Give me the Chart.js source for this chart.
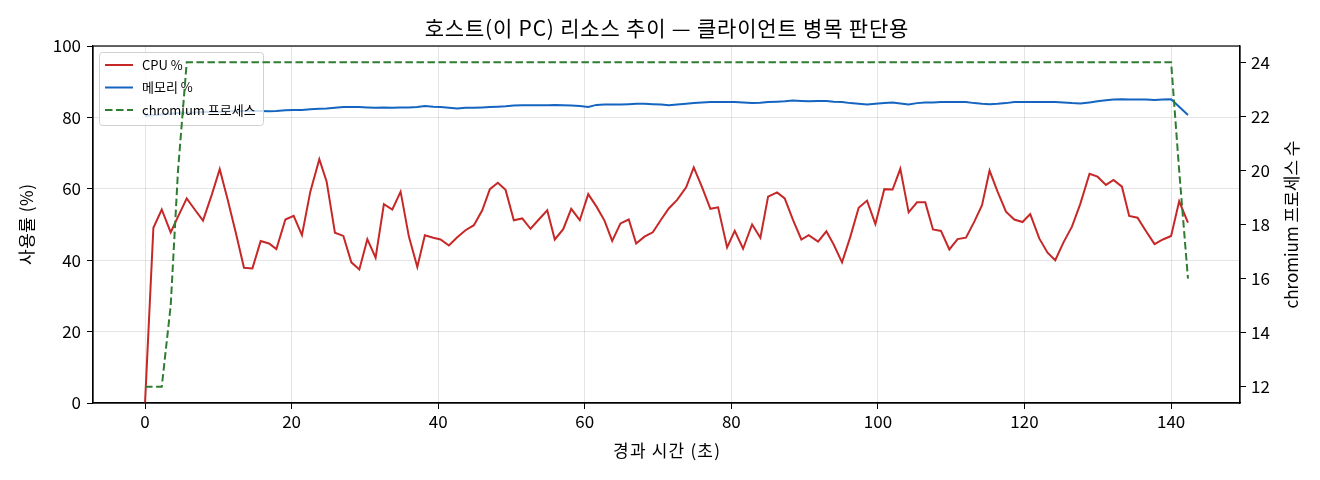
<!DOCTYPE html>
<html>
<head>
<meta charset="utf-8">
<script src="https://cdn.jsdelivr.net/npm/chart.js@4.4.1/dist/chart.umd.min.js"></script>
<style>
  html, body { margin: 0; background: #fff; }
  #wrap { width: 1320px; height: 480px; }
</style>
</head>
<body>
<div id="wrap"><canvas id="chart"></canvas></div>
<script>
// elapsed seconds of each sample
const times = [
  0, 1.14, 2.28, 3.50, 4.50, 5.69, 6.78, 7.91, 9.10, 10.19,
  11.28, 12.41, 13.50, 14.65, 15.78, 16.91, 17.92, 19.15, 20.28, 21.41,
  22.55, 23.78, 24.78, 25.91, 27.06, 28.15, 29.24, 30.33, 31.46, 32.59,
  33.74, 34.87, 36.00, 37.15, 38.18, 39.33, 40.32, 41.46, 42.60, 43.73,
  44.87, 46.01, 47.05, 48.14, 49.19, 50.32, 51.47, 52.60, 53.73, 54.88,
  55.91, 57.06, 58.15, 59.32, 60.47, 61.60, 62.69, 63.74, 64.87, 66.00,
  67.01, 68.14, 69.28, 70.42, 71.46, 72.60, 73.83, 74.87, 76.01, 77.14,
  78.19, 79.42, 80.46, 81.60, 82.83, 83.96, 85.01, 86.24, 87.28, 88.42,
  89.55, 90.55, 91.83, 92.96, 93.96, 95.10, 96.24, 97.37, 98.51, 99.65,
  100.87, 102.00, 103.05, 104.19, 105.33, 106.46, 107.51, 108.60, 109.74, 110.87,
  112.01, 113.15, 114.20, 115.23, 116.32, 117.47, 118.60, 119.73, 120.78, 122.01,
  123.14, 124.19, 125.32, 126.47, 127.60, 128.87, 129.96, 131.11, 132.14, 133.29,
  134.28, 135.42, 136.56, 137.74, 138.88, 140.0, 141.1, 142.3
]

const cpu = [
  0, 49.1, 54.2, 47.8, 52.2, 57.3, 54.2, 51.1, 58.3, 65.5,
  56.9, 47.5, 37.9, 37.7, 45.4, 44.7, 43.1, 51.4, 52.4, 47.0,
  59.2, 68.3, 62.0, 47.7, 46.8, 39.4, 37.4, 45.9, 40.7, 55.7,
  54.2, 59.2, 46.6, 38.1, 47.0, 46.3, 45.8, 44.1, 46.4, 48.4,
  49.8, 54.0, 59.9, 61.7, 59.7, 51.2, 51.7, 48.8, 51.4, 54.0,
  45.8, 48.7, 54.4, 51.2, 58.5, 55.0, 51.1, 45.4, 50.3, 51.4,
  44.7, 46.6, 47.8, 51.4, 54.5, 56.9, 60.4, 66.0, 60.4, 54.4,
  54.8, 43.6, 48.2, 43.2, 50.0, 46.3, 57.8, 59.0, 57.3, 51.2,
  45.8, 47.0, 45.2, 48.1, 44.4, 39.4, 46.6, 54.7, 56.7, 50.1,
  59.9, 59.8, 65.6, 53.4, 56.2, 56.2, 48.6, 48.2, 43.0, 45.9,
  46.3, 50.8, 55.4, 65.1, 59.2, 53.6, 51.4, 50.7, 52.9, 46.1,
  42.1, 40.0, 45.0, 49.4, 55.7, 64.2, 63.4, 61.1, 62.5, 60.6,
  52.4, 51.9, 48.2, 44.5, 45.8, 46.8, 56.5, 50.5
]

const mem = [
  80.4, 80.6, 80.8, 81.0, 81.2, 81.3, 81.4, 81.5, 81.6, 81.6,
  81.7, 81.7, 81.8, 81.8, 81.8, 81.7, 81.8, 82.0, 82.1, 82.1,
  82.3, 82.4, 82.5, 82.7, 82.9, 82.9, 82.9, 82.8, 82.7, 82.8,
  82.7, 82.8, 82.8, 82.9, 83.2, 83.0, 82.9, 82.7, 82.5, 82.7,
  82.7, 82.8, 82.9, 83.0, 83.1, 83.3, 83.4, 83.4, 83.4, 83.4,
  83.5, 83.4, 83.3, 83.2, 82.9, 83.5, 83.6, 83.6, 83.6, 83.7,
  83.8, 83.8, 83.7, 83.6, 83.4, 83.6, 83.8, 84.0, 84.2, 84.3,
  84.3, 84.3, 84.3, 84.2, 84.0, 84.1, 84.3, 84.4, 84.5, 84.7,
  84.6, 84.5, 84.6, 84.6, 84.4, 84.3, 84.0, 83.8, 83.6, 83.8,
  84.0, 84.2, 83.9, 83.6, 84.0, 84.2, 84.2, 84.3, 84.3, 84.3,
  84.3, 84.0, 83.8, 83.7, 83.8, 84.0, 84.3, 84.3, 84.3, 84.3,
  84.3, 84.3, 84.2, 84.0, 83.9, 84.2, 84.5, 84.8, 85.0, 85.1,
  85.0, 85.0, 85.0, 84.9, 85.0, 85.1, 83.0, 80.7
]

const procs = [
  12, 12, 12, 15, 20, 24, 24, 24, 24, 24,
  24, 24, 24, 24, 24, 24, 24, 24, 24, 24,
  24, 24, 24, 24, 24, 24, 24, 24, 24, 24,
  24, 24, 24, 24, 24, 24, 24, 24, 24, 24,
  24, 24, 24, 24, 24, 24, 24, 24, 24, 24,
  24, 24, 24, 24, 24, 24, 24, 24, 24, 24,
  24, 24, 24, 24, 24, 24, 24, 24, 24, 24,
  24, 24, 24, 24, 24, 24, 24, 24, 24, 24,
  24, 24, 24, 24, 24, 24, 24, 24, 24, 24,
  24, 24, 24, 24, 24, 24, 24, 24, 24, 24,
  24, 24, 24, 24, 24, 24, 24, 24, 24, 24,
  24, 24, 24, 24, 24, 24, 24, 24, 24, 24,
  24, 24, 24, 24, 24, 24, 20, 16
]

const xTicks = [0, 20, 40, 60, 80, 100, 120, 140]
const yTicks = [0, 20, 40, 60, 80, 100]
const y2Ticks = [12, 14, 16, 18, 20, 22, 24]

const labels = ['CPU %', '메모리 %', 'chromium 프로세스']
const TITLE = '호스트(이 PC) 리소스 추이 — 클라이언트 병목 판단용'
const XLABEL = '경과 시간 (초)'
const YLABEL = '사용률 (%)'
const Y2LABEL = 'chromium 프로세스 수'

const FONT = '"Noto Sans CJK KR", "Noto Sans", sans-serif'
const RED = '#c62828'
const BLUE = '#1565c0'
const GREEN = '#2e7d32'
const GRID = 'rgba(0,0,0,0.1)'

const pairs = arr => times.map((t, i) => ({ x: t, y: arr[i] }))

function drawLegend (chart) {
  const ctx = chart.ctx
  const x = 99, y = 52, w = 164, h = 73
  ctx.save()
  ctx.fillStyle = 'rgba(255,255,255,0.8)'
  ctx.strokeStyle = '#d0d0d0'
  ctx.lineWidth = 1
  ctx.beginPath()
  ctx.roundRect(x + 0.5, y + 0.5, w, h, 3)
  ctx.fill()
  ctx.stroke()
  const cols = [RED, BLUE, GREEN]
  ctx.font = '13px ' + FONT
  ctx.textBaseline = 'middle'
  ctx.fillStyle = '#000'
  for (let i = 0; i < 3; i++) {
    const ly = 65 + i * 22.5
    ctx.strokeStyle = cols[i]
    ctx.lineWidth = 2
    ctx.setLineDash(i === 2 ? [7.5, 3.5] : [])
    ctx.beginPath()
    ctx.moveTo(105, ly)
    ctx.lineTo(133, ly)
    ctx.stroke()
    ctx.setLineDash([])
    ctx.fillText(labels[i], 142, ly)
  }
  ctx.restore()
}

function spaced (ctx, text, x, y, gap) {
  ctx.letterSpacing = gap + 'px'
  ctx.fillText(text, x + gap / 2, y)
  ctx.letterSpacing = '0px'
}

const deco = {
  id: 'deco',
  beforeDatasetDraw (chart, args) {
    if (args.index === 2) drawLegend(chart)
  },
  afterDraw (chart) {
    const { ctx, chartArea: a } = chart
    const cx = (a.left + a.right) / 2
    const cy = (a.top + a.bottom) / 2
    ctx.save()
    ctx.strokeStyle = '#000'
    ctx.lineWidth = 1.2
    ctx.strokeRect(a.left, a.top, a.right - a.left, a.bottom - a.top)
    ctx.fillStyle = '#000'
    ctx.textAlign = 'center'
    ctx.textBaseline = 'middle'
    ctx.font = '21px ' + FONT
    spaced(ctx, TITLE, cx, 28, 0.8)
    ctx.font = '17px ' + FONT
    spaced(ctx, XLABEL, cx, 451, 1.2)
    ctx.save()
    ctx.translate(27, cy)
    ctx.rotate(-Math.PI / 2)
    spaced(ctx, YLABEL, 0, 0, 0.5)
    ctx.restore()
    ctx.save()
    ctx.translate(1292, cy)
    ctx.rotate(-Math.PI / 2)
    ctx.fillText(Y2LABEL, 0, 0)
    ctx.restore()
    ctx.restore()
  }
}

const tickFont = { family: FONT, size: 17 }

new Chart(document.getElementById('chart'), {
  type: 'line',
  data: {
    datasets: [
      { label: labels[0], data: pairs(cpu), yAxisID: 'y', borderColor: RED, backgroundColor: RED, borderWidth: 2, order: 2 },
      { label: labels[1], data: pairs(mem), yAxisID: 'y', borderColor: BLUE, backgroundColor: BLUE, borderWidth: 2, order: 1 },
      { label: labels[2], data: pairs(procs), yAxisID: 'y1', borderColor: GREEN, backgroundColor: GREEN, borderWidth: 2, borderDash: [7.5, 3.5], order: 0 }
    ]
  },
  options: {
    responsive: true,
    maintainAspectRatio: false,
    animation: false,
    elements: { point: { radius: 0 }, line: { tension: 0 } },
    layout: { padding: { top: 46, left: 0, right: 0, bottom: 0 } },
    plugins: { legend: { display: false }, tooltip: { enabled: false }, title: { display: false } },
    scales: {
      x: {
        type: 'linear',
        min: -7.1,
        max: 149.4,
        afterBuildTicks: s => { s.ticks = xTicks.map(v => ({ value: v })) },
        afterFit: s => { s.height = 77 },
        grid: { color: GRID, tickColor: '#000', tickLength: 6 },
        border: { color: '#000', width: 1.2 },
        ticks: { font: tickFont, color: '#000', padding: 2, maxRotation: 0 }
      },
      y: {
        position: 'left',
        min: 0,
        max: 100,
        afterBuildTicks: s => { s.ticks = yTicks.map(v => ({ value: v })) },
        afterFit: s => { s.width = 93 },
        grid: { color: GRID, tickColor: '#000', tickLength: 6 },
        border: { color: '#000', width: 1.2 },
        ticks: { font: tickFont, color: '#000', padding: 6 }
      },
      y1: {
        position: 'right',
        min: 11.4,
        max: 24.6,
        afterBuildTicks: s => { s.ticks = y2Ticks.map(v => ({ value: v })) },
        afterFit: s => { s.width = 80 },
        grid: { drawOnChartArea: false, tickColor: '#000', tickLength: 6 },
        border: { color: '#000', width: 1.2 },
        ticks: { font: tickFont, color: '#000', padding: 5 }
      }
    }
  },
  plugins: [deco]
})
</script>
</body>
</html>
